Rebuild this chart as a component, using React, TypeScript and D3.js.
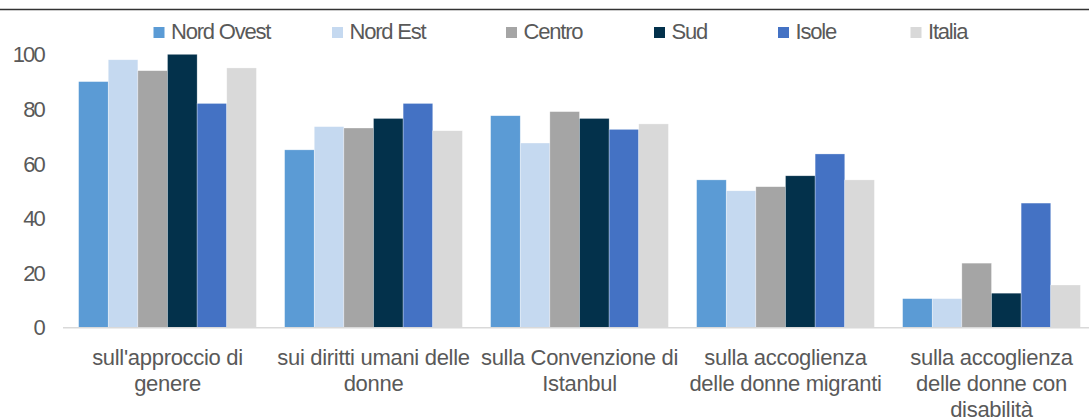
import React, { useEffect, useRef } from 'react';
import * as d3 from 'd3';

// categories (x axis, "\n" marks the line breaks of the labels)
const categories = [
  "sull'approccio di\ngenere",
  'sui diritti umani delle\ndonne',
  'sulla Convenzione di\nIstanbul',
  'sulla accoglienza\ndelle donne migranti',
  'sulla accoglienza\ndelle donne con\ndisabilità',
];

const seriesNames = ['Nord Ovest', 'Nord Est', 'Centro', 'Sud', 'Isole', 'Italia'];

const nordOvest = [90, 65, 77.5, 54, 10.5];
const nordEst = [98, 73.5, 67.5, 50, 10.5];
const centro = [94, 73, 79, 51.5, 23.5];
const sud = [100, 76.5, 76.5, 55.5, 12.5];
const isole = [82, 82, 72.5, 63.5, 45.5];
const italia = [95, 72, 74.5, 54, 15.5];

const yTicks = [0, 20, 40, 60, 80, 100];

const colors = ['#5B9BD5', '#C5D9F0', '#A5A5A5', '#03314B', '#4472C4', '#D9D9D9'];

const App = () => {
  const ref = useRef(null);

  useEffect(() => {
    const svg = d3.select(ref.current);
    svg.selectAll('*').remove();

    const width = 1089;
    const height = 420;
    const font = "'Liberation Sans', Arial, sans-serif";
    const textColor = '#595959';

    svg.attr('width', width).attr('height', height);

    const values = [nordOvest, nordEst, centro, sud, isole, italia];
    const rows = categories.map((c, i) => ({
      cat: c,
      vals: seriesNames.map((s, j) => ({ key: s, value: values[j][i], color: colors[j] })),
    }));

    const x0 = d3.scaleBand()
      .domain(categories)
      .range([64.5, 1094.5])
      .paddingInner(0.137)
      .paddingOuter(0.0685);

    const x1 = d3.scaleBand()
      .domain(seriesNames)
      .range([0, x0.bandwidth()]);

    const y = d3.scaleLinear()
      .domain([0, 100])
      .range([327.3, 54.3]);

    // top rule
    svg.append('line')
      .attr('x1', 0).attr('x2', width)
      .attr('y1', 9.5).attr('y2', 9.5)
      .attr('stroke', '#333')
      .attr('stroke-width', 1.5);

    // Bars
    const g = svg.append('g');
    const groups = g.selectAll('g.grp')
      .data(rows)
      .enter()
      .append('g')
      .attr('class', 'grp')
      .attr('transform', d => `translate(${x0(d.cat)},0)`);

    groups.selectAll('rect')
      .data(d => d.vals)
      .enter()
      .append('rect')
      .attr('x', d => x1(d.key))
      .attr('y', d => y(d.value))
      .attr('width', x1.bandwidth())
      .attr('height', d => y(0) - y(d.value))
      .attr('fill', d => d.color)
      .attr('stroke', '#fff')
      .attr('stroke-width', 0.6)
      .attr('stroke-opacity', 0.5);

    // baseline
    svg.append('line')
      .attr('x1', 63).attr('x2', width)
      .attr('y1', y(0) + 0.5).attr('y2', y(0) + 0.5)
      .attr('stroke', '#D9D9D9')
      .attr('stroke-width', 1.5);

    // Y tick labels
    svg.append('g')
      .selectAll('text')
      .data(yTicks)
      .enter()
      .append('text')
      .attr('x', 44)
      .attr('y', d => y(d) + 8)
      .attr('text-anchor', 'end')
      .attr('font-family', font)
      .attr('font-size', '22px')
      .attr('letter-spacing', '-1.8px')
      .attr('fill', textColor)
      .text(d => d);

    // X labels
    const xl = svg.append('g')
      .selectAll('text')
      .data(categories)
      .enter()
      .append('text')
      .attr('text-anchor', 'middle')
      .attr('font-family', font)
      .attr('font-size', '22px')
      .attr('letter-spacing', '-0.3px')
      .attr('fill', textColor);

    xl.each(function (d) {
      const t = d3.select(this);
      const cx = x0(d) + x0.bandwidth() / 2;
      d.split('\n').forEach((line, i) => {
        t.append('tspan')
          .attr('x', cx)
          .attr('y', 365 + i * 26)
          .text(line);
      });
    });

    // Legend
    const legendX = [153.5, 332, 506, 654, 778, 910.5];
    const legend = svg.append('g')
      .selectAll('g')
      .data(seriesNames)
      .enter()
      .append('g')
      .attr('transform', (d, i) => `translate(${legendX[i]},27)`);

    legend.append('rect')
      .attr('width', 11)
      .attr('height', 11)
      .attr('fill', (d, i) => colors[i]);

    legend.append('text')
      .attr('x', 17.5)
      .attr('y', 12)
      .attr('font-family', font)
      .attr('font-size', '22px')
      .attr('letter-spacing', '-1.2px')
      .attr('fill', textColor)
      .text(d => d);
  }, []);

  return <svg ref={ref} style={{ position: 'absolute', left: 0, top: 0 }}></svg>;
};

export default App;
